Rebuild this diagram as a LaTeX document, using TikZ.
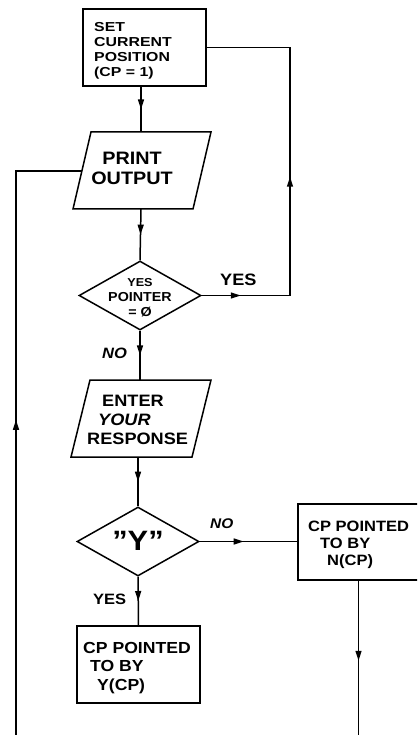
\documentclass[tikz,border=0pt]{standalone}
\usepackage{fontspec}
\setmainfont[FakeStretch=1.1]{Liberation Sans}
\newfontfamily\widefont[FakeStretch=1.22]{Liberation Sans}
\usetikzlibrary{shapes.geometric,arrows.meta,decorations.markings}
\newcommand\fsz[2]{\fontsize{#1}{#2}\selectfont\bfseries}
\begin{document}
\begin{tikzpicture}[x=1pt,y=-1pt,
  ln/.style={line width=1.5pt},
  boxnode/.style={draw,line width=1.5pt,rectangle,inner sep=0pt},
  dianode/.style={draw,line width=1.5pt,diamond,inner sep=0pt,minimum width=122pt,minimum height=69pt},
  arr/.style={postaction={decorate,decoration={markings,mark=at position #1 with {\arrow{Triangle[length=10pt,width=6pt]}}}}},
  txt/.style={inner sep=0pt,align=left,anchor=west},
  ctxt/.style={inner sep=0pt,align=center},
  lbl/.style={inner sep=0pt,anchor=base west}]
\useasboundingbox (0,0) rectangle (417,735);
\begin{scope}
\clip (0,0) rectangle (417,735);
% shapes
\node[boxnode,minimum width=123pt,minimum height=77pt] (set) at (144.5,47.5) {};
\draw[ln,line join=miter] (91,132) -- (211,132) -- (193,209) -- (73,209) -- cycle;
\coordinate (printtop) at (141,132);
\coordinate (printbot) at (141,209);
\coordinate (printleft) at (82,171);
\node[dianode] (d1) at (140,295.5) {};
\draw[ln,line join=miter] (90,380) -- (211,380) -- (192,457) -- (71,457) -- cycle;
\coordinate (entertop) at (140,380);
\coordinate (enterbot) at (138,457);
\node[dianode] (d2) at (138,541.5) {};
\node[boxnode,minimum width=121pt,minimum height=76pt] (nbox) at (358.5,542) {};
\node[boxnode,minimum width=123pt,minimum height=77pt] (ybox) at (138.5,664.5) {};
% loop coordinates
\coordinate (yesc) at (290,47.5);
\coordinate (nbot) at (358.5,740);
\coordinate (lbot) at (16,740);
\coordinate (lcorner) at (16,171);
% texts
\node[txt,font=\widefont\fsz{13}{15}] (settext) at (94,51) {SET\\CURRENT\\POSITION\\(CP = 1)};
\node[ctxt,font=\fsz{18}{20}] (printtext) at (132,168.5) {PRINT\\OUTPUT};
\node[ctxt,font=\fsz{13}{15}] (d1text) at (140,297.5) {\fsz{11.5}{14}YES\\POINTER\\= Ø};
\node[txt,font=\fsz{16.5}{19}] (entertext) at (87,420) {\hspace*{15pt}ENTER\\\hspace*{11pt}\textit{YOUR}\\RESPONSE};
\node[ctxt,font=\fsz{28}{30}] (d2text) at (138,541) {"Y"};
\node[txt,font=\fsz{15}{17}] (ntext) at (308,545) {CP POINTED\\\hspace*{12pt}TO BY\\\hspace*{19pt}N(CP)};
\node[txt,font=\fsz{16}{18.5}] (ytext) at (83,668) {CP POINTED\\\hspace*{7pt}TO BY\\\hspace*{14pt}Y(CP)};
\node[lbl,font=\fsz{16.5}{18}] (yes1) at (220,285) {YES};
\node[lbl,font=\fsz{15}{18}\itshape] (no1) at (102,358) {NO};
\node[lbl,font=\fsz{14}{18}\itshape] (no2) at (210,528) {NO};
\node[lbl,font=\fsz{15}{18}] (yes2) at (93,604) {YES};
% connectors
\draw[ln,arr=0.5] (set.south -| printtop) -- (printtop);
\draw[ln,arr=0.5] (printbot) -- (d1.north);
\draw[ln,arr=0.5] (d1.south) -- (entertop);
\draw[ln,arr=0.5] (enterbot) -- (d2.north);
\draw[ln,arr=0.5] (d2.south) -- (ybox.north);
\draw[ln,arr=0.45] (d2.east) -- (d2.east -| nbox.west);
\draw[ln,arr=39pt,arr=207pt] (d1.east) -| (yesc) -- (set.east);
\draw[ln,arr=80pt,arr=822pt] (nbox.south) -- (nbot) -- (lbot) -- (lcorner) -- (printleft);
\end{scope}
\end{tikzpicture}
\end{document}
